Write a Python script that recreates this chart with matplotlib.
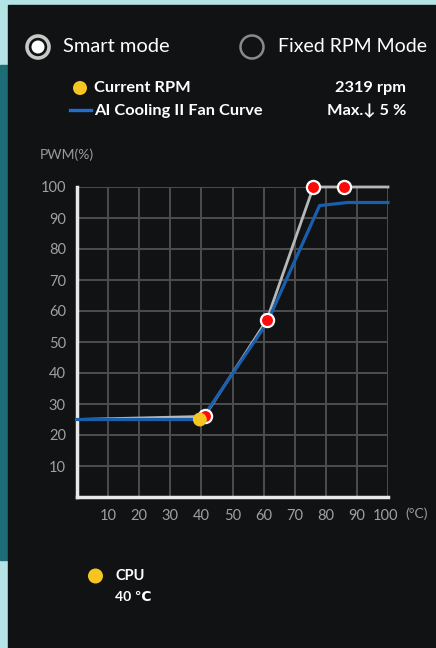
import matplotlib.pyplot as plt
from matplotlib.patches import Rectangle, Circle
from matplotlib.transforms import ScaledTranslation

plt.rcParams['font.family'] = ['Lato', 'DejaVu Sans']

# fan curve set points (temperature in degC, PWM in %)
set_temp = [0, 41, 61, 76, 86, 100]
set_pwm = [25, 26, 57, 100, 100, 100]
marker_temp = [41, 61, 76, 86]
marker_pwm = [26, 57, 100, 100]

# AI Cooling II curve
ai_temp = [0, 40, 61, 78, 87, 100]
ai_pwm = [25, 25, 56, 94, 95, 95]

# current state
cpu_temp = 40
cur_pwm = 25
cur_rpm = 2319
max_drop = 5

ticks = [10, 20, 30, 40, 50, 60, 70, 80, 90, 100]

W, H = 436, 648
fig = plt.figure(figsize=(W / 100, H / 100), dpi=100)
fig.patch.set_facecolor('#b4e4e6')

# overlay in pixel coordinates for the window chrome and labels
ui = fig.add_axes([0, 0, 1, 1])
ui.set_xlim(0, W)
ui.set_ylim(H, 0)
ui.axis('off')
ui.add_patch(Rectangle((0, 65), 8, 495, color='#1d6d77', zorder=0))
ui.add_patch(Rectangle((8, 5), W - 8, H, color='#111213', zorder=1))

# radio buttons
ui.add_patch(Circle((38, 47), 11, facecolor='none', edgecolor='#c8c8c8', lw=2.6, zorder=2))
ui.add_patch(Circle((38, 47), 6.5, facecolor='white', edgecolor='none', zorder=2))
ui.add_patch(Circle((252, 47), 11.5, facecolor='none', edgecolor='#8a8a8a', lw=1.8, zorder=2))
ui.text(63, 47, 'Smart mode', color='white', fontsize=14.5, va='center', zorder=3)
ui.text(278, 47, 'Fixed RPM Mode', color='white', fontsize=14, va='center', zorder=3)

# legend
ui.add_patch(Circle((80, 88), 7, facecolor='#f6c521', edgecolor='none', zorder=2))
ui.text(94, 88, 'Current RPM', color='white', fontsize=11.8, weight='bold', va='center', zorder=3)
ui.plot([70, 91], [110, 110], color='#1e6fd0', lw=2.4, zorder=2)
ui.text(94, 111, 'AI Cooling II Fan Curve', color='white', fontsize=11.8, weight='bold',
        va='center', zorder=3)
ui.text(406, 88, f'{cur_rpm} rpm', color='white', fontsize=11.8, weight='bold',
        va='center', ha='right', zorder=3)
ui.text(406, 111, f'Max.\u2193 {max_drop} %', color='white', fontsize=11.8, weight='bold',
        va='center', ha='right', zorder=3)

ui.text(40, 155, 'PWM(%)', color='#9a9a9a', fontsize=10, va='center', zorder=3)
ui.text(405, 514, '(\u00b0C)', color='#9a9a9a', fontsize=10, va='center', zorder=3)

# cpu readout
ui.add_patch(Circle((95.5, 576), 7.5, facecolor='#f6c521', edgecolor='none', zorder=2))
ui.text(115, 576, 'CPU', color='white', fontsize=10.5, weight='bold', va='center', zorder=3)
ui.text(115, 597, f'{cpu_temp} \u2103', color='white', fontsize=10, weight='bold',
        va='center', zorder=3)

# fan curve plot
ax = fig.add_axes([77 / W, 1 - 497 / H, (388 - 77) / W, (497 - 187) / H])
ax.set_facecolor('none')
ax.set_xlim(0, 100)
ax.set_ylim(0, 100)
ax.set_xticks(ticks)
ax.set_yticks(ticks)
ax.grid(True, color='#4d4d4d', lw=1.4)
ax.set_axisbelow(True)
for side in ['top', 'right']:
    ax.spines[side].set_visible(False)
for side in ['left', 'bottom']:
    ax.spines[side].set_color('#e8e8e8')
    ax.spines[side].set_linewidth(2.5)
ax.tick_params(length=0, colors='#a0a0a0', labelsize=10.5)
ax.tick_params(axis='x', pad=9)
ax.tick_params(axis='y', pad=8)
# nudge the "100" label left so it clears the unit
last = ax.get_xticklabels()[-1]
last.set_transform(last.get_transform() + ScaledTranslation(-3 / 100, 0, fig.dpi_scale_trans))

ax.plot(set_temp, set_pwm, color='#b8b8b8', lw=2, zorder=3, clip_on=False)
ax.plot(ai_temp, ai_pwm, color='#1a5fae', lw=2.3, zorder=4, clip_on=False)
ax.scatter(marker_temp, marker_pwm, s=90, color='#ff0a0a', edgecolor='white', lw=1.6,
           zorder=5, clip_on=False)
ax.scatter([cpu_temp - 0.5], [cur_pwm], s=100, color='#f6c521', edgecolor='none',
           zorder=6, clip_on=False)

fig.savefig('out.png', dpi=100, facecolor=fig.get_facecolor())
